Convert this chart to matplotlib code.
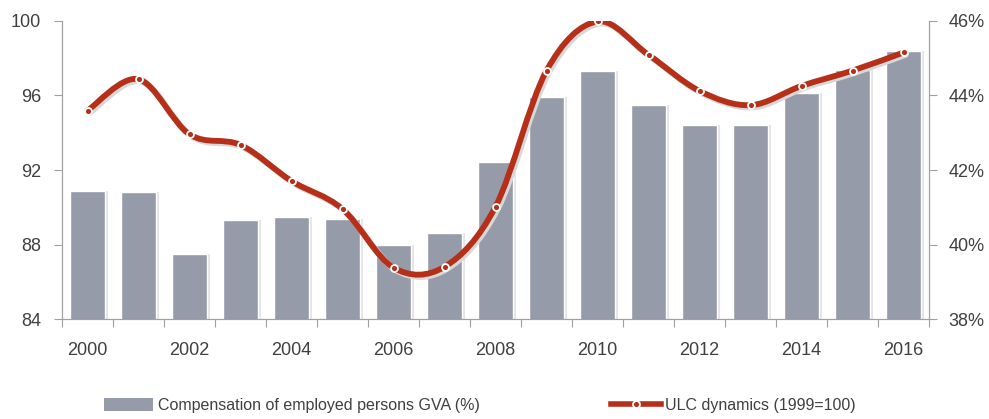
import numpy as np
import matplotlib
matplotlib.use("Agg")
import matplotlib.pyplot as plt
from matplotlib.path import Path
from matplotlib.patches import PathPatch, Patch
from matplotlib.lines import Line2D
from matplotlib.ticker import FuncFormatter
import matplotlib.transforms as mtransforms

plt.rcParams['font.family'] = ['Liberation Sans', 'DejaVu Sans']

years = list(range(2000, 2017))
# Compensation of employed persons, share of GVA (%), right axis
comp_gva = [41.44, 41.41, 39.76, 40.66, 40.75, 40.69, 40.00, 40.31, 42.22,
            43.95, 44.66, 43.74, 43.20, 43.20, 44.05, 44.67, 45.18]
# ULC dynamics (1999=100), left axis
ulc = [95.18, 96.86, 93.91, 93.34, 91.41, 89.91, 86.77, 86.82, 90.04,
       97.32, 99.95, 98.16, 96.23, 95.47, 96.50, 97.32, 98.29]
year_labels = [str(y) if y % 2 == 0 else '' for y in years]

bar_col = '#959ba8'
line_col = '#b62f18'
txt_col = '#404040'
spine_col = '#a0a0a0'

fig = plt.figure(figsize=(9.89, 4.19), dpi=100)
ax = fig.add_axes([0.0627, 0.2375, 0.8767, 0.7135])
ax2 = ax.twinx()

x = np.arange(len(years))

# bars on the percent axis, with a faint shadow
ax2.bar(x + 0.05, comp_gva, width=0.72, color='#e4e4e4', zorder=1)
ax2.bar(x, comp_gva, width=0.70, color=bar_col, edgecolor='white', linewidth=1.0, zorder=2)
ax2.set_ylim(38, 46)
ax2.set_yticks([38, 40, 42, 44, 46])
ax2.yaxis.set_major_formatter(FuncFormatter(lambda v, p: '%d%%' % v))

# smooth ULC line (Bezier through the data points)
pts = np.column_stack([x, ulc]).astype(float)
ext = np.vstack([pts[0], pts, pts[-1]])
verts = [tuple(pts[0])]
codes = [Path.MOVETO]
for i in range(len(pts) - 1):
    p0, p1, p2, p3 = ext[i], ext[i + 1], ext[i + 2], ext[i + 3]
    c1 = p1 + (p2 - p0) / 6.0
    c2 = p2 - (p3 - p1) / 6.0
    verts += [tuple(c1), tuple(c2), tuple(p2)]
    codes += [Path.CURVE4] * 3
shadow = ax.transData + mtransforms.ScaledTranslation(1.5/72, -1.5/72, fig.dpi_scale_trans)
ax.add_patch(PathPatch(Path(verts, codes), fill=False, edgecolor='#d8d8d8',
                       lw=4.5, capstyle='round', zorder=3, transform=shadow))
ax.add_patch(PathPatch(Path(verts, codes), fill=False, edgecolor=line_col,
                       lw=4.2, capstyle='round', zorder=4))
ax.plot(x, ulc, ls='none', marker='o', ms=5, mfc=line_col, mec='white', mew=1.3, zorder=5)

ax.set_ylim(84, 100)
ax.set_yticks([84, 88, 92, 96, 100])
ax.set_xlim(-0.5, len(years) - 0.5)

# ticks on category boundaries, labels at centres
ax.set_xticks(np.arange(-0.5, len(years), 1.0))
ax.set_xticklabels([])
ax.set_xticks(x, minor=True)
ax.set_xticklabels(year_labels, minor=True)
ax.tick_params(axis='x', which='major', length=6, color=spine_col, direction='out')
ax.tick_params(axis='x', which='minor', length=0, pad=16, labelsize=13, labelcolor=txt_col)
ax.tick_params(axis='y', length=6, color=spine_col, labelsize=13, labelcolor=txt_col, pad=9)
ax2.tick_params(axis='y', length=6, color=spine_col, labelsize=13, labelcolor=txt_col, pad=8)

for a in (ax, ax2):
    a.spines['top'].set_visible(False)
    for s in ('left', 'right', 'bottom'):
        a.spines[s].set_color(spine_col)

ax.set_zorder(ax2.get_zorder() + 1)
ax.patch.set_visible(False)

handles = [Patch(facecolor=bar_col, edgecolor='none'),
           Line2D([], [], color=line_col, lw=4, marker='o', ms=5, mfc=line_col, mec='white', mew=1.3)]
fig.legend(handles, ['Compensation of employed persons GVA (%)', 'ULC dynamics (1999=100)'],
           loc='lower left', bbox_to_anchor=(0.0906, -0.02), ncol=2, frameon=False,
           fontsize=11.5, handlelength=3.1, handleheight=0.9, handletextpad=0.3,
           columnspacing=8.2, labelcolor=txt_col)

fig.savefig('out.png', dpi=100, facecolor='white')
